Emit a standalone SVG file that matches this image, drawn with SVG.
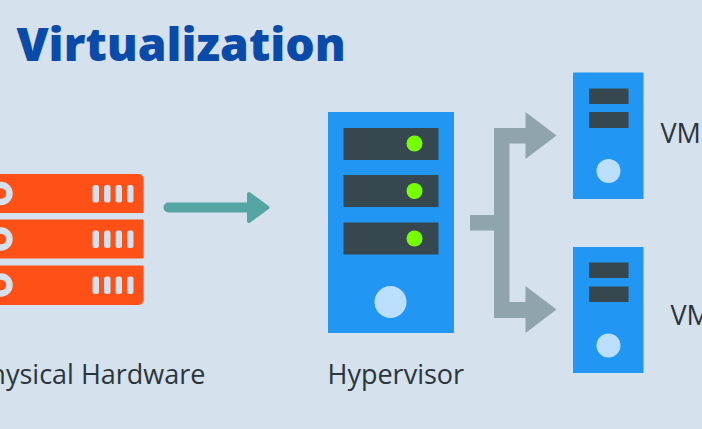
<svg xmlns="http://www.w3.org/2000/svg" width="702" height="429" viewBox="0 0 702 429">
<style>
.t{font-family:"Open Sans","Noto Sans",sans-serif;font-size:27px;fill:#2b353b}
.case{fill:#2196f3}.slot{fill:#37474f}.led{fill:#76ff03}.btn{fill:#bbdefb}
.row{fill:#ff5117}.cut{fill:#d5e1ec}
.gray{fill:#90a4ae}
</style>
<defs>
<g id="ports">
<rect class="cut" x="92.500" width="6.500" height="17.500" rx="2.500"/>
<rect class="cut" x="104" width="6.500" height="17.500" rx="2.500"/>
<rect class="cut" x="115.500" width="6.500" height="17.500" rx="2.500"/>
<rect class="cut" x="127" width="6.500" height="17.500" rx="2.500"/>
</g>
</defs>
<rect width="702" height="429" fill="#d5e1ec"/>
<text x="16.500" y="61" font-family="'Open Sans','Noto Sans',sans-serif" font-size="46.300" font-weight="800" fill="#0a4aa8">Virtualization</text>
<g id="hardware">
<path class="row" d="M-10 174H138.500a5 5 0 0 1 5 5V213H-10Z"/>
<rect class="row" x="-10" y="219.500" width="153.500" height="39"/>
<path class="row" d="M-10 265.500H143.500V300a5 5 0 0 1-5 5H-10Z"/>
<circle cx="1" cy="193.500" r="8.500" fill="none" stroke="#d5e1ec" stroke-width="6.500"/>
<circle cx="1" cy="239" r="8.500" fill="none" stroke="#d5e1ec" stroke-width="6.500"/>
<circle cx="1" cy="285" r="8.500" fill="none" stroke="#d5e1ec" stroke-width="6.500"/>
<use href="#ports" y="185"/><use href="#ports" y="230.500"/><use href="#ports" y="276.500"/>
<text class="t" x="205.500" y="384" text-anchor="end">Physical Hardware</text>
</g>
<g id="hypervisor">
<rect class="case" x="328" y="112" width="126" height="221"/>
<rect class="slot" x="343.500" y="128" width="95" height="32"/>
<rect class="slot" x="343.500" y="175" width="95" height="32"/>
<rect class="slot" x="343.500" y="222.500" width="95" height="32"/>
<circle class="led" cx="414.500" cy="143.500" r="8"/>
<circle class="led" cx="414.500" cy="191" r="8"/>
<circle class="led" cx="414.500" cy="238.500" r="8"/>
<circle class="btn" cx="390.500" cy="302" r="16"/>
<text class="t" x="327.500" y="384">Hypervisor</text>
</g>
<g id="vm1">
<rect class="case" x="573" y="72.500" width="70.500" height="126.500"/>
<rect class="slot" x="589" y="88.500" width="39.500" height="15.500"/>
<rect class="slot" x="589" y="112" width="39.500" height="16"/>
<circle class="btn" cx="608.500" cy="171" r="12"/>
<text class="t" x="660.500" y="142.500">VM</text>
</g>
<g id="vm2">
<rect class="case" x="573" y="247" width="70.500" height="126"/>
<rect class="slot" x="589" y="262.500" width="39.500" height="15.500"/>
<rect class="slot" x="589" y="286.500" width="39.500" height="15.500"/>
<circle class="btn" cx="608.500" cy="345.500" r="12"/>
<text class="t" x="670.500" y="325">VM</text>
</g>
<g id="connectors">
<path d="M168.500 207.500H250" fill="none" stroke="#56a5a5" stroke-width="10" stroke-linecap="round"/>
<path d="M249 194L267.500 207.500L249 221Z" fill="#56a5a5" stroke="#56a5a5" stroke-width="4" stroke-linejoin="round"/>
<path class="gray" d="M470 215H494V128H525.500V112L556.500 135.500L525.500 159V143.500H509.500V302H525.500V286L556.500 309.500L525.500 333V318H494V230.500H470Z"/>
</g>
</svg>
